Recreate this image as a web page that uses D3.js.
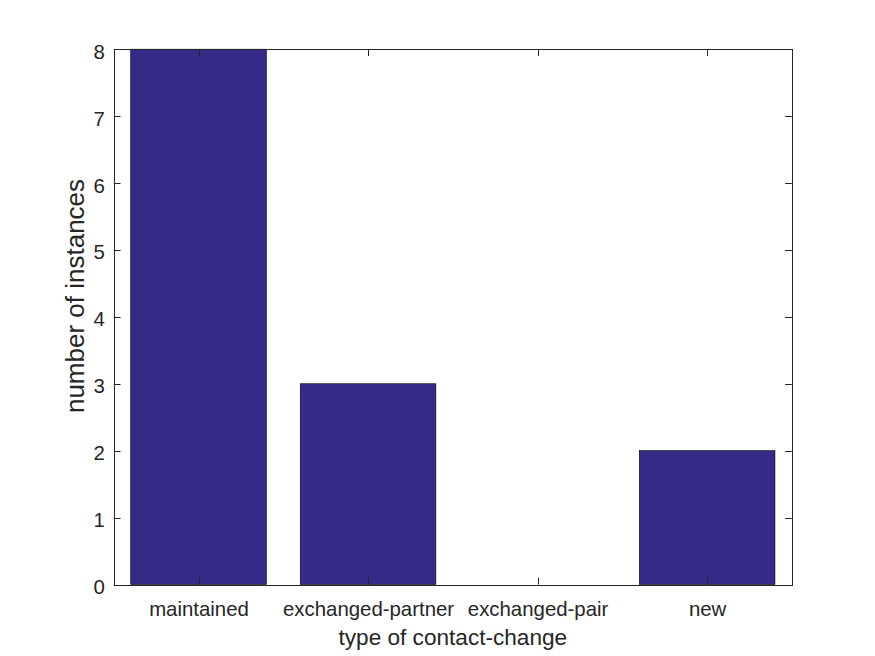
<!DOCTYPE html>
<html><head><meta charset="utf-8">
<script src="https://cdn.jsdelivr.net/npm/d3@7"></script>
<style>body{margin:0;background:#fff}svg{display:block}text{font-family:"Liberation Sans",Arial,sans-serif;fill:#262626}</style>
</head><body><svg id="c" width="875" height="656"></svg>
<script>
const categories = ["maintained","exchanged-partner","exchanged-pair","new"];
const values = [8,3,0,2];
const yTicks = [0,1,2,3,4,5,6,7,8];
const xLabel = "type of contact-change";
const yLabel = "number of instances";

const svg = d3.select("#c");
const L=113.75, R=791.9, T=49.2, B=584.5;
const x = d3.scaleLinear().domain([0.5,4.5]).range([L,R]);
const y = d3.scaleLinear().domain([0,8]).range([B,T]);
svg.append("rect").attr("x",0).attr("y",0).attr("width",875).attr("height",656).attr("fill","#fff");
const bw=0.8;
svg.selectAll("rect.bar").data(values).enter().append("rect").attr("class","bar")
 .attr("x",(d,i)=>x(i+1-bw/2)).attr("width",(d,i)=>x(i+1+bw/2)-x(i+1-bw/2))
 .attr("y",d=>y(d)).attr("height",d=>y(0)-y(d))
 .attr("fill","#352a87").attr("stroke","#000").attr("stroke-width",0.6)
 .style("display",d=>d>0?null:"none");
const tl=6.8;
const g=svg.append("g").attr("stroke","#262626").attr("stroke-width",1).attr("fill","none");
categories.forEach((c,i)=>{
  const xx=Math.round(x(i+1))+0.5;
  g.append("line").attr("x1",xx).attr("x2",xx).attr("y1",B).attr("y2",B-tl);
  g.append("line").attr("x1",xx).attr("x2",xx).attr("y1",T).attr("y2",T+tl);
});
yTicks.forEach(t=>{
  const yy=Math.round(y(t))+0.5;
  g.append("line").attr("x1",L).attr("x2",L+tl).attr("y1",yy).attr("y2",yy);
  g.append("line").attr("x1",R).attr("x2",R-tl).attr("y1",yy).attr("y2",yy);
});
g.append("rect").attr("x",Math.round(L)+0.5).attr("y",Math.round(T)+0.5).attr("width",Math.round(R)-Math.round(L)).attr("height",Math.round(B)-Math.round(T));
svg.selectAll("text.xt").data(categories).enter().append("text")
 .attr("x",(d,i)=>x(i+1)+0.5).attr("y",616).attr("text-anchor","middle").attr("font-size","20.4px").text(d=>d);
svg.selectAll("text.yt").data(yTicks).enter().append("text")
 .attr("x",L-9).attr("y",d=>y(d)+9.5).attr("text-anchor","end").attr("font-size","20.4px").text(d=>d);
svg.append("text").attr("x",(L+R)/2).attr("y",645).attr("text-anchor","middle").attr("font-size","22.6px").text(xLabel);
svg.append("text").attr("transform",`translate(84,296) rotate(-90)`).attr("text-anchor","middle")
 .attr("font-size","26px").text(yLabel);
</script></body></html>
